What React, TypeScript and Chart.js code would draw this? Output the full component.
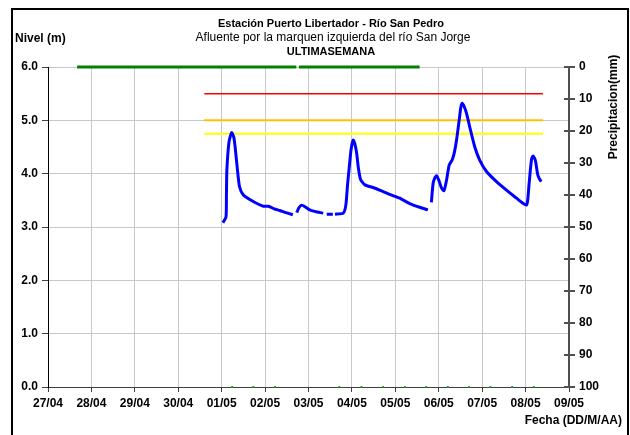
import React, { useEffect, useRef } from "react";
import { Chart, registerables } from "chart.js";

Chart.register(...registerables);

const dateLabels = ["27/04", "28/04", "29/04", "30/04", "01/05", "02/05", "03/05", "04/05", "05/05", "06/05", "07/05", "08/05", "09/05"];
const levelTicks = [0, 1, 2, 3, 4, 5, 6];
const precipTicks = [0, 10, 20, 30, 40, 50, 60, 70, 80, 90, 100];

// days since 27/04 00:00 ; null = gap
const levelDays = [
  4.03, 4.10, 4.11, 4.12, 4.17, 4.23, 4.28, 4.31, 4.36, 4.41, 4.50, 4.66, 4.79, 4.96, 5.08, 5.21, 5.34, 5.48, 5.64,
  5.69,
  5.73, 5.78, 5.84, 5.92, 6.03, 6.20, 6.34, 6.38, 6.42, 6.56, 6.58, 6.61, 6.80, 6.86, 6.90, 6.94, 6.98, 7.03, 7.07, 7.11, 7.15, 7.20, 7.30, 7.49, 7.67, 7.87, 8.10, 8.33, 8.56, 8.75,
  8.78,
  8.83, 8.87, 8.91, 8.95, 9.00, 9.06, 9.12, 9.18, 9.24, 9.31, 9.36, 9.41, 9.47, 9.51, 9.54, 9.59, 9.64, 9.73, 9.83, 9.94, 10.10, 10.33, 10.56, 10.79, 10.93, 11.02, 11.05, 11.08, 11.11, 11.14, 11.17, 11.20, 11.23, 11.28, 11.32, 11.36,
];
const levelValues = [
  3.08, 3.19, 3.6, 4.07, 4.6, 4.77, 4.68, 4.5, 4.1, 3.76, 3.6, 3.51, 3.45, 3.39, 3.39, 3.34, 3.31, 3.27, 3.23,
  null,
  3.27, 3.36, 3.41, 3.38, 3.32, 3.28, 3.26, null, 3.24, 3.24, null, 3.24, 3.26, 3.41, 3.8, 4.13, 4.45, 4.63, 4.55, 4.38, 4.1, 3.89, 3.79, 3.74, 3.68, 3.61, 3.54, 3.44, 3.37, 3.32,
  null,
  3.46, 3.82, 3.92, 3.96, 3.88, 3.74, 3.68, 3.88, 4.16, 4.26, 4.4, 4.63, 5.0, 5.25, 5.32, 5.25, 5.13, 4.82, 4.5, 4.26, 4.04, 3.85, 3.69, 3.54, 3.45, 3.41, 3.51, 3.8, 4.07, 4.28, 4.33, 4.3, 4.23, 3.98, 3.9, 3.85,
];

const thresholdStart = 3.6;
const thresholdEnd = 11.4;
const redLevel = 5.5;
const orangeLevel = 5.0;
const yellowLevel = 4.75;

const precipDays = [0.67, 5.72, 5.75, 5.78, 8.56];
const precipValues = [0, 0, null, 0, 0];

const dotDays = [4.24, 4.73, 5.23, 6.71, 7.22, 7.72, 8.22, 8.71, 9.21, 9.70, 10.19, 10.69, 11.19];
const dotValues = dotDays.map(() => 100);

const FONT = '"Liberation Sans", Arial, sans-serif';

const textPlugin = {
  id: "texts",
  afterDraw(chart: any) {
    const ctx = chart.ctx;
    ctx.save();
    ctx.fillStyle = "#000";
    ctx.textBaseline = "middle";
    ctx.textAlign = "center";
    ctx.font = `bold 11px ${FONT}`;
    ctx.fillText("Estación Puerto Libertador - Río San Pedro", 331, 24);
    ctx.font = `12px ${FONT}`;
    ctx.fillText("Afluente por la marquen izquierda del río San Jorge", 333, 38);
    ctx.font = `bold 11px ${FONT}`;
    ctx.fillText("ULTIMASEMANA", 331, 52);
    ctx.font = `bold 12px ${FONT}`;
    ctx.textAlign = "left";
    ctx.fillText("Nivel (m)", 15, 39);
    ctx.textAlign = "right";
    ctx.fillText("Fecha (DD/M/AA)", 622, 421);
    ctx.save();
    ctx.translate(614, 107);
    ctx.rotate(-Math.PI / 2);
    ctx.textAlign = "center";
    ctx.fillText("Precipitacion(mm)", 0, 0);
    ctx.restore();
    // inner tick marks on the right axis
    const y1 = chart.scales.y1;
    ctx.strokeStyle = "#505050";
    ctx.lineWidth = 2;
    precipTicks.forEach((v) => {
      const py = Math.round(y1.getPixelForValue(v));
      ctx.beginPath();
      ctx.moveTo(y1.left - 5, py);
      ctx.lineTo(y1.left, py);
      ctx.stroke();
    });
    ctx.strokeStyle = "#000";
    ctx.lineWidth = 2;
    ctx.strokeRect(12, 9, 616, 432);
    ctx.restore();
  },
};

export default function App() {
  const ref = useRef<HTMLCanvasElement>(null);
  useEffect(() => {
    document.body.style.margin = "0";
    const pts = (xs: number[], ys: (number | null)[]) => xs.map((x, i) => ({ x, y: ys[i] }));
    const chart = new Chart(ref.current as HTMLCanvasElement, {
      type: "line",
      data: {
        datasets: [
          {
            label: "Nivel",
            data: pts(levelDays, levelValues) as any,
            borderColor: "#0000ff",
            borderWidth: 3,
            pointRadius: 0,
            tension: 0.2,
            spanGaps: false,
            yAxisID: "y",
            order: 1,
          },
          {
            label: "Rojo",
            data: pts([thresholdStart, thresholdEnd], [redLevel, redLevel]) as any,
            borderColor: "#ff0000",
            borderWidth: 1.5,
            pointRadius: 0,
            yAxisID: "y",
            order: 2,
          },
          {
            label: "Naranja",
            data: pts([thresholdStart, thresholdEnd], [orangeLevel, orangeLevel]) as any,
            borderColor: "#ffc000",
            borderWidth: 2,
            pointRadius: 0,
            yAxisID: "y",
            order: 2,
          },
          {
            label: "Amarillo",
            data: pts([thresholdStart, thresholdEnd], [yellowLevel, yellowLevel]) as any,
            borderColor: "#ffff00",
            borderWidth: 2,
            pointRadius: 0,
            yAxisID: "y",
            order: 2,
          },
          {
            label: "Precipitacion",
            data: pts(precipDays, precipValues) as any,
            borderColor: "#008000",
            borderWidth: 3,
            pointRadius: 0,
            spanGaps: false,
            yAxisID: "y1",
            clip: false as any,
            order: 0,
          },
          {
            label: "Puntos",
            data: pts(dotDays, dotValues) as any,
            showLine: false,
            pointStyle: "rect",
            pointRadius: 1.3,
            pointBackgroundColor: "#00a000",
            pointBorderColor: "#00a000",
            borderWidth: 0,
            yAxisID: "y1",
            clip: false as any,
            order: 0,
          },
        ],
      },
      options: {
        responsive: false,
        animation: false,
        layout: { padding: { top: 67, left: 0, right: 0, bottom: 0 } },
        plugins: { legend: { display: false }, tooltip: { enabled: false }, title: { display: false } },
        scales: {
          x: {
            type: "linear",
            min: 0,
            max: 12,
            afterBuildTicks: (s: any) => {
              s.ticks = dateLabels.map((_, i) => ({ value: i }));
            },
            afterFit: (s: any) => {
              s.height = 48;
            },
            ticks: {
              callback: (v: any) => dateLabels[Math.round(v)] ?? "",
              font: { family: FONT, size: 12, weight: "bold" },
              color: "#000",
              padding: 4,
              maxRotation: 0,
              autoSkip: false,
            },
            grid: { color: "#c8c8c8", tickColor: "#404040", tickLength: 5, lineWidth: 1 },
            border: { color: "#404040", width: 1 },
          },
          y: {
            position: "left",
            min: 0,
            max: 6,
            afterBuildTicks: (s: any) => {
              s.ticks = levelTicks.map((v) => ({ value: v }));
            },
            afterFit: (s: any) => {
              s.width = 48;
            },
            ticks: {
              callback: (v: any) => Number(v).toFixed(1),
              font: { family: FONT, size: 12, weight: "bold" },
              color: "#000",
              padding: 4,
            },
            grid: { color: "#c8c8c8", tickColor: "#404040", tickLength: 6, lineWidth: 1 },
            border: { color: "#000", width: 1 },
          },
          y1: {
            position: "right",
            reverse: true,
            min: 0,
            max: 100,
            afterBuildTicks: (s: any) => {
              s.ticks = precipTicks.map((v) => ({ value: v }));
            },
            afterFit: (s: any) => {
              s.width = 61;
            },
            ticks: {
              font: { family: FONT, size: 12, weight: "bold" },
              color: "#000",
              padding: 4,
            },
            grid: { drawOnChartArea: false, tickColor: "#505050", tickLength: 6, lineWidth: 2 },
            border: { color: "#505050", width: 2 },
          },
        },
      },
      plugins: [textPlugin],
    });
    return () => chart.destroy();
  }, []);
  return <canvas ref={ref} width={630} height={435} style={{ display: "block" }} />;
}
